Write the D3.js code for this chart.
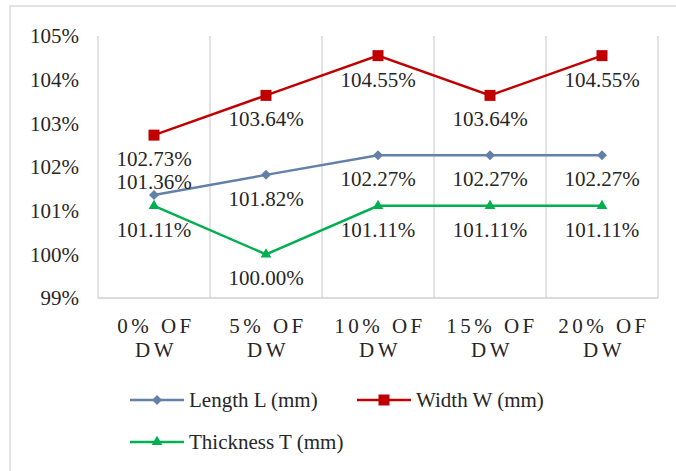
<!DOCTYPE html>
<html lang="en">
<head>
<meta charset="utf-8">
<title>Dimension change vs DW</title>
<script src="https://cdn.jsdelivr.net/npm/d3@7"></script>
<style>
  body { margin: 0; background: #fff; }
  text { font-family: "Liberation Serif", "Times New Roman", serif; fill: #262626; }
</style>
</head>
<body>
<div id="chart"></div>
<script>
// data
var categories = ["0% OF DW", "5% OF DW", "10% OF DW", "15% OF DW", "20% OF DW"];
var lengthL = [101.36, 101.82, 102.27, 102.27, 102.27];
var widthW = [102.73, 103.64, 104.55, 103.64, 104.55];
var thicknessT = [101.11, 100.00, 101.11, 101.11, 101.11];
var yTicks = [99, 100, 101, 102, 103, 104, 105];

var series = [
  { name: "Length L (mm)", values: lengthL, color: "#6381a8", marker: "diamond" },
  { name: "Width W (mm)", values: widthW, color: "#c00000", marker: "square" },
  { name: "Thickness T (mm)", values: thicknessT, color: "#00b050", marker: "triangle" }
];

drawChart();

function drawChart() {
  var w = 676, h = 471;
  var pLeft = 98, pRight = 658, pTop = 36, pBottom = 298;
  var serif = "Liberation Serif, Times New Roman, serif";

  var svg = d3.select("#chart").append("svg")
    .attr("width", w)
    .attr("height", h);

  // outer chart border (runs off the right and bottom edge)
  svg.append("rect")
    .attr("x", 10).attr("y", 6)
    .attr("width", w + 20).attr("height", h + 20)
    .attr("fill", "none")
    .attr("stroke", "#d9d9d9")
    .attr("stroke-width", 1.5);

  var xScale = d3.scaleBand()
    .domain(categories)
    .range([pLeft, pRight]);

  var yScale = d3.scaleLinear()
    .domain([99, 105])
    .range([pBottom, pTop]);

  var cx = function(i) { return xScale(categories[i]) + xScale.bandwidth() / 2; };

  // marker shapes; the diamond is a square turned 45 degrees
  function markerPath(m) {
    if (m === "square") return d3.symbol().type(d3.symbolSquare).size(121)();
    if (m === "triangle") return d3.symbol().type(d3.symbolTriangle).size(50)();
    return d3.symbol().type(d3.symbolSquare).size(50)();
  }
  function markerRot(m) { return m === "diamond" ? " rotate(45)" : ""; }

  // vertical gridlines at category edges
  var edges = categories.map(function(c) { return xScale(c); }).concat([pRight]);
  svg.append("g").selectAll("line")
    .data(edges)
    .enter().append("line")
    .attr("x1", function(d) { return d; })
    .attr("x2", function(d) { return d; })
    .attr("y1", pTop)
    .attr("y2", pBottom)
    .attr("stroke", "#d9d9d9")
    .attr("stroke-width", 1.5);

  // horizontal axis line
  svg.append("line")
    .attr("x1", pLeft).attr("x2", pRight)
    .attr("y1", pBottom).attr("y2", pBottom)
    .attr("stroke", "#d0d0d0")
    .attr("stroke-width", 1.5);

  // y axis labels
  var yAxis = d3.axisLeft(yScale)
    .tickValues(yTicks)
    .tickSize(0)
    .tickPadding(19)
    .tickFormat(function(d) { return d + "%"; });

  var gy = svg.append("g")
    .attr("transform", "translate(" + pLeft + ",0)")
    .call(yAxis)
    .attr("font-family", serif);
  gy.select(".domain").remove();
  gy.selectAll("text")
    .attr("font-family", serif)
    .attr("font-size", 21)
    .attr("fill", "#262626");

  // x category labels, two lines each
  svg.append("g").selectAll("text")
    .data(categories)
    .enter().append("text")
    .attr("text-anchor", "middle")
    .attr("font-family", serif)
    .attr("font-size", 21)
    .attr("letter-spacing", "3.5px")
    .each(function(d, i) {
      var parts = d.split(" ");
      var t = d3.select(this);
      t.append("tspan").attr("x", cx(i) + 2).attr("y", 333).text(parts[0] + " " + parts[1]);
      t.append("tspan").attr("x", cx(i) + 2).attr("y", 357).text(parts[2]);
    });

  var line = d3.line()
    .x(function(d, i) { return cx(i); })
    .y(function(d) { return yScale(d); });

  series.forEach(function(s) {
    var g = svg.append("g");
    g.append("path")
      .datum(s.values)
      .attr("d", line)
      .attr("fill", "none")
      .attr("stroke", s.color)
      .attr("stroke-width", 2.5);

    g.selectAll("path.mk")
      .data(s.values)
      .enter().append("path")
      .attr("class", "mk")
      .attr("d", markerPath(s.marker))
      .attr("transform", function(d, i) {
        return "translate(" + cx(i) + "," + yScale(d) + ")" + markerRot(s.marker);
      })
      .attr("fill", s.color);
  });

  // data labels, drawn after all lines so they sit on top
  series.forEach(function(s, si) {
    svg.append("g").selectAll("text")
      .data(s.values)
      .enter().append("text")
      .attr("x", function(d, i) { return cx(i); })
      .attr("y", function(d, i) {
        // the first Length label sits above its point
        if (si === 0 && i === 0) return yScale(d) - 6;
        return yScale(d) + 31;
      })
      .attr("text-anchor", "middle")
      .attr("font-family", serif)
      .attr("font-size", 21)
      .text(function(d) { return d.toFixed(2) + "%"; });
  });

  // legend
  var legendPos = [[130, 400], [357, 400], [130, 442]];
  var lg = svg.append("g").selectAll("g")
    .data(series)
    .enter().append("g")
    .attr("transform", function(d, i) { return "translate(" + legendPos[i][0] + "," + legendPos[i][1] + ")"; });
  lg.append("line")
    .attr("x1", 0).attr("x2", 54)
    .attr("stroke", function(d) { return d.color; })
    .attr("stroke-width", 2.5);
  lg.append("path")
    .attr("d", function(d) { return markerPath(d.marker); })
    .attr("transform", function(d) { return "translate(27,0)" + markerRot(d.marker); })
    .attr("fill", function(d) { return d.color; });
  lg.append("text")
    .attr("x", 59)
    .attr("y", 7)
    .attr("font-family", serif)
    .attr("font-size", 21)
    .text(function(d) { return d.name; });
}
</script>
</body>
</html>
